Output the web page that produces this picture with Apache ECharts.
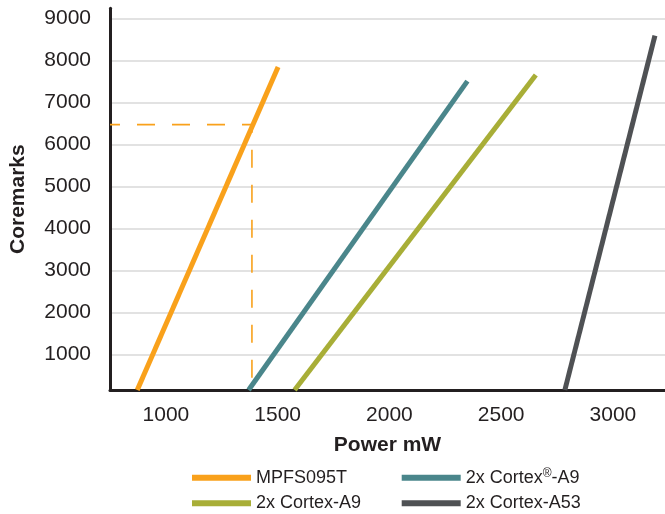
<!DOCTYPE html>
<html>
<head>
<meta charset="utf-8">
<script src="https://cdn.jsdelivr.net/npm/echarts@6/dist/echarts.min.js"></script>
<style>
  html, body { margin: 0; padding: 0; background: #ffffff; }
  #chart { width: 665px; height: 514px; }
</style>
</head>
<body>
<div id="chart"></div>
<script>
// ---- data ----
const seriesNames = ['MPFS095T', '2x Cortex®-A9', '2x Cortex-A9', '2x Cortex-A53'];
const mpfsPower = [872, 1502];
const mpfsMarks = [150, 7840];
const cortexA9RegPower = [1370, 2349];
const cortexA9RegMarks = [150, 7507];
const cortexA9Power = [1576, 2655];
const cortexA9Marks = [150, 7650];
const cortexA53Power = [2785, 3188];
const cortexA53Marks = [150, 8590];
const guidePower = [750, 1385, 1385];
const guideMarks = [6470, 6470, 150];
const xTicks = [1000, 1500, 2000, 2500, 3000];
const yTicks = [1000, 2000, 3000, 4000, 5000, 6000, 7000, 8000, 9000];
const xRange = [750, 3233];
const yRange = [150, 9240];

const colors = ['#F9A11B', '#4A868B', '#A8AE37', '#4F5154'];
const textColor = '#231F20';
const fontFamily = 'Liberation Sans';

function pairs(xs, ys) { return xs.map((x, i) => [x, ys[i]]); }

const chart = echarts.init(document.getElementById('chart'), null, { renderer: 'canvas' });

function lineSeries(name, xs, ys, color) {
  return {
    name: name,
    type: 'line',
    data: pairs(xs, ys),
    symbol: 'none',
    silent: true,
    animation: false,
    lineStyle: { color: color, width: 5, cap: 'butt' },
    itemStyle: { color: color },
    z: 3
  };
}

const legendText = {
  color: textColor, fontFamily: fontFamily, fontSize: 18, lineHeight: 20,
  rich: {
    sup: { fontSize: 12, fontFamily: fontFamily, color: textColor, verticalAlign: 'top', lineHeight: 20, padding: [0, 0, 6, 0] }
  }
};
function legendFormatter(name) {
  return name.replace('®', '{sup|®}');
}
// legend positions: [left, top] per series, 2 columns x 2 rows
const legendSlots = [[192, 467.7], [401.7, 467.7], [192, 493.3], [401.7, 493.3]];
const legends = seriesNames.map((name, i) => ({
  data: [name],
  orient: 'horizontal',
  left: legendSlots[i][0], top: legendSlots[i][1],
  padding: 0,
  itemWidth: 59, itemHeight: 6,
  icon: 'rect',
  selectedMode: false,
  textStyle: legendText,
  formatter: legendFormatter
}));

const option = {
  backgroundColor: '#ffffff',
  animation: false,
  grid: {
    left: 110, right: 0, top: 8.3, bottom: 124,
    containLabel: false,
    outerBoundsMode: 'none'
  },
  legend: legends,
  xAxis: {
    type: 'value',
    min: xRange[0], max: xRange[1],
    name: 'Power mW',
    nameLocation: 'middle',
    nameGap: 45,
    nameTextStyle: { color: textColor, fontFamily: fontFamily, fontSize: 21, fontWeight: 'bold' },
    axisLine: { show: true, lineStyle: { color: textColor, width: 3 } },
    axisTick: { show: false, customValues: xTicks },
    axisLabel: { customValues: xTicks, formatter: v => String(v), color: textColor, fontFamily: fontFamily, fontSize: 21, margin: 15 },
    splitLine: { show: false }
  },
  yAxis: {
    type: 'value',
    min: yRange[0], max: yRange[1],
    name: 'Coremarks',
    nameLocation: 'middle',
    nameGap: 81,
    nameTextStyle: { color: textColor, fontFamily: fontFamily, fontSize: 21, fontWeight: 'bold' },
    axisLine: { show: true, lineStyle: { color: textColor, width: 3 } },
    axisTick: { show: false, customValues: yTicks },
    axisLabel: { customValues: yTicks, formatter: v => String(v), color: textColor, fontFamily: fontFamily, fontSize: 21, margin: 19 },
    splitLine: { show: true, lineStyle: { color: '#D9D9D9', width: 1.5 } }
  },
  series: [
    lineSeries(seriesNames[0], mpfsPower, mpfsMarks, colors[0]),
    lineSeries(seriesNames[1], cortexA9RegPower, cortexA9RegMarks, colors[1]),
    lineSeries(seriesNames[2], cortexA9Power, cortexA9Marks, colors[2]),
    lineSeries(seriesNames[3], cortexA53Power, cortexA53Marks, colors[3]),
    {
      name: 'guide',
      type: 'line',
      data: pairs(guidePower, guideMarks),
      symbol: 'none',
      silent: true,
      animation: false,
      lineStyle: { color: colors[0], width: 1.6, type: [18, 17], dashOffset: 8 },
      z: 2
    }
  ]
};

chart.setOption(option);
</script>
</body>
</html>
